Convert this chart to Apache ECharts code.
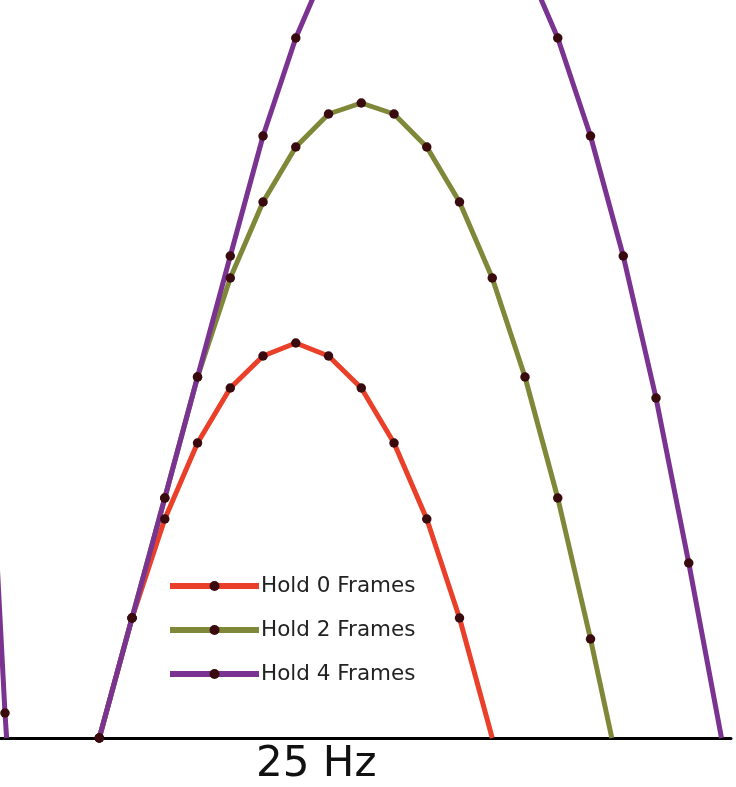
<!DOCTYPE html>
<html>
<head>
<meta charset="utf-8">
<script src="https://cdn.jsdelivr.net/npm/echarts@6/dist/echarts.min.js"></script>
<style>
html,body{margin:0;padding:0;background:#fff;}
#chart{width:736px;height:787px;}
</style>
</head>
<body>
<div id="chart"></div>
<script>
// Frame index (x) and height (y) values
const hold0Frames = [0,1,2,3,4,5,6,7,8,9,10,11,12];
const hold0Height = [0,120,219,295,350,382,395,382,350,295,219,120,0];

const hold2Frames = [0,1,2,3,4,5,6,7,8,9,10,11,12,13,14,15,15.65];
const hold2Height = [0,120,240,361,460,536,591,624,635,624,591,536,460,361,240,99,0];

const hold4Frames = [0,1,2,3,4,5,6,7,8,9,10,11,12,13,14,15,16,17,18,19];
const hold4Height = [0,120,240,361,482,602,700,776,831,864,875,864,831,776,700,602,482,340,175,0];

// tail of the previous Hold-4 jump at the left edge
const prevFrames = [-3.88,-2.88,-2.83];
const prevHeight = [650,25,0];

const seriesNames = ['Hold 0 Frames','Hold 2 Frames','Hold 4 Frames'];
const seriesColors = ['#ea4029','#7f8838','#7b3391'];
const markerColor = '#3a0b0e';
const chartTitle = '25 Hz';

function pairs(xs, ys, noEndSymbol){
  return xs.map((x,i)=>{
    const item = {value:[x, ys[i]]};
    if (noEndSymbol && i === xs.length-1) item.symbol = 'none';
    return item;
  });
}

function lineSeries(name, color, data){
  return {
    name: name,
    type: 'line',
    data: data,
    symbol: 'circle',
    symbolSize: 9.5,
    showAllSymbol: true,
    clip: true,
    lineStyle: {color: color, width: 5},
    itemStyle: {color: markerColor},
    emphasis: {disabled: true},
    animation: false,
    z: 2
  };
}

const chart = echarts.init(document.getElementById('chart'), null, {renderer:'canvas'});
chart.setOption({
  backgroundColor: '#ffffff',
  animation: false,
  title: {
    text: chartTitle,
    left: 256, top: 744, padding: 0,
    textStyle: {fontFamily: 'DejaVu Sans', fontSize: 42, fontWeight: 'normal', color: '#111'}
  },
  legend: {
    orient: 'vertical',
    left: 167, top: 575, padding: 0,
    itemWidth: 89, itemHeight: 12.5,
    itemGap: 22,
    lineStyle: {width: 6},
    data: seriesNames,
    textStyle: {fontFamily: 'DejaVu Sans', fontSize: 21.5, color: '#222', padding: [0,0,0,-3]}
  },
  grid: {left: 0, right: 5, top: 0, bottom: 49, containLabel: false},
  xAxis: {
    type: 'value', min: -3.032, max: 19.29,
    axisLine: {show: true, onZero: false, lineStyle: {color: '#000', width: 3}},
    axisTick: {show: false}, axisLabel: {show: false}, splitLine: {show: false}
  },
  yAxis: {
    type: 'value', min: 0, max: 738,
    show: false, splitLine: {show: false}
  },
  series: [
    lineSeries(seriesNames[0], seriesColors[0], pairs(hold0Frames, hold0Height, true)),
    lineSeries(seriesNames[1], seriesColors[1], pairs(hold2Frames, hold2Height, true)),
    lineSeries(seriesNames[2], seriesColors[2], pairs(hold4Frames, hold4Height, true)),
    lineSeries(seriesNames[2], seriesColors[2], pairs(prevFrames, prevHeight, true))
  ]
});
</script>
</body>
</html>
